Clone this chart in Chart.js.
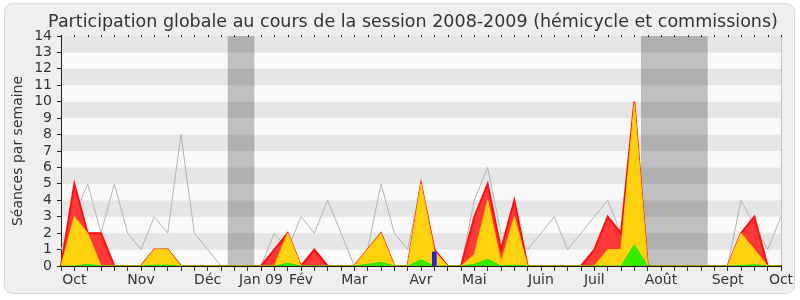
<!DOCTYPE html>
<html>
<head>
<meta charset="utf-8">
<script src="https://cdn.jsdelivr.net/npm/chart.js@4"></script>
<style>
  html, body { margin: 0; padding: 0; background: #ffffff; }
  #wrap { width: 800px; height: 300px; }
</style>
</head>
<body>
<div id="wrap"><canvas id="chart" width="800" height="300"></canvas></div>
<script>
// one value per week, from late Sept 2008 to early Oct 2009
const weeks = Array.from({ length: 55 }, (_, i) => i);

const monthTicks = { 1: "Oct", 6: "Nov", 11: "Déc", 15: "Jan 09", 18: "Fév", 22: "Mar",
  27: "Avr", 31: "Mai", 36: "Juin", 40: "Juil", 45: "Août", 50: "Sept", 54: "Oct" };

const titre = "Participation globale au cours de la session 2008-2009 (hémicycle et commissions)";

// total sessions (red)
const totalSeances = [0, 5, 2, 2, 0, 0, 0, 1, 1, 0, 0, 0, 0, 0, 0, 0, 1, 2, 0, 1,
  0, 0, 0, 1, 2, 0, 0, 5, 1, 0, 0, 3, 5, 1, 4, 0, 0, 0, 0, 0,
  1, 3, 2, 10, 0, 0, 0, 0, 0, 0, 0, 2, 3, 0, 0];
// committee sessions (yellow)
const commissions = [0, 3, 2, 0, 0, 0, 0, 1, 1, 0, 0, 0, 0, 0, 0, 0, 0, 2, 0, 0,
  0, 0, 0, 1, 2, 0, 0, 5, 0.9, 0, 0, 0.7, 4, 0.25, 3, 0, 0, 0, 0, 0,
  0, 1, 1, 9.9, 0, 0, 0, 0, 0, 0, 0, 2, 1, 0, 0];
// chaired sessions (green)
const presidences = [0, 0, 0.1, 0, 0, 0, 0, 0.05, 0.05, 0, 0, 0, 0, 0, 0, 0, 0, 0.16, 0, 0,
  0, 0, 0, 0.1, 0.22, 0, 0, 0.37, 0, 0, 0, 0.1, 0.4, 0, 0.05, 0, 0, 0, 0, 0,
  0, 0, 0, 1.28, 0, 0, 0, 0, 0, 0, 0, 0.03, 0.08, 0, 0];
// average of all deputies (grey line)
const moyenne = [1, 3, 5, 2, 5, 2, 1, 3, 2, 8, 2, 1, 0, null, null, 0, 2, 1, 3, 2,
  4, 2, 0, 1, 5, 2, 1, 5, 1, 0, 0, 4, 6, 2, 2, 1, 2, 3, 1, 2,
  3, 4, 2, null, null, null, null, null, null, null, 0, 4, 2.5, 1, 3];
// questions (blue bar)
const questions = weeks.map(i => (i === 28 ? 0.85 : null));

const vacances = [[12.5, 14.5], [43.5, 48.5]];

const font = "'DejaVu Sans', sans-serif";

const backdrop = {
  id: "backdrop",
  beforeDraw(chart) {
    const { ctx, chartArea: a, scales: { x, y } } = chart;
    ctx.save();
    // card
    ctx.fillStyle = "#efefef";
    ctx.strokeStyle = "#d8d8d8";
    ctx.lineWidth = 1;
    ctx.beginPath();
    ctx.roundRect(4.5, 3.5, 790, 290, 8);
    ctx.fill();
    ctx.stroke();
    // stripes
    for (let v = 0; v < 14; v++) {
      ctx.fillStyle = v % 2 === 1 ? "#e6e6e6" : "#fafafa";
      const top = y.getPixelForValue(v + 1), bot = y.getPixelForValue(v);
      ctx.fillRect(a.left, top, a.right - a.left, bot - top);
    }
    // holidays
    ctx.fillStyle = "rgba(0,0,0,0.23)";
    vacances.forEach(([s, e]) => {
      const l = x.getPixelForValue(s), r = x.getPixelForValue(e);
      ctx.fillRect(l, a.top, r - l, a.bottom - a.top);
    });
    // right edge and dotted top
    ctx.fillStyle = "#c4c4c4";
    ctx.fillRect(a.right, a.top, 1, a.bottom - a.top);
    ctx.fillStyle = "#222";
    weeks.forEach(i => {
      ctx.fillRect(Math.round(x.getPixelForValue(i)), a.top - 1, 1, 2);
    });
    // title, centred over the plot like the original
    ctx.fillStyle = "#333";
    ctx.font = "17.5px " + font;
    ctx.textAlign = "center";
    ctx.textBaseline = "alphabetic";
    ctx.fillText(titre, 413, 27);
    ctx.restore();
  }
};

new Chart(document.getElementById("chart"), {
  data: {
    labels: weeks,
    datasets: [
      { type: "bar", data: questions, backgroundColor: "#2424d8", barThickness: 4, order: 0 },
      { type: "line", data: presidences, fill: "origin", backgroundColor: "#33ee00",
        borderColor: "#22dd00", borderWidth: 1, pointRadius: 0, tension: 0, order: 1 },
      { type: "line", data: commissions, fill: "origin", backgroundColor: "#ffd20f",
        borderColor: "#ffcc00", borderWidth: 1, pointRadius: 0, tension: 0, order: 2 },
      { type: "line", data: totalSeances, fill: "origin", backgroundColor: "#ff3838",
        borderColor: "#ff1010", borderWidth: 2, pointRadius: 0, tension: 0, order: 3 },
      { type: "line", data: moyenne, fill: false, borderColor: "#b4b4b4",
        borderWidth: 1, pointRadius: 0, tension: 0, spanGaps: false, order: 4 }
    ]
  },
  options: {
    responsive: false,
    animation: false,
    events: [],
    layout: { padding: { left: 8, right: 19, top: 36, bottom: 6 } },
    plugins: {
      legend: { display: false },
      tooltip: { enabled: false },
      title: { display: false }
    },
    scales: {
      x: {
        type: "category",
        offset: false,
        z: 1,
        afterFit: s => { s.height = 28; },
        grid: { offset: false, drawOnChartArea: false, tickLength: 5, color: "#333" },
        border: { color: "#2a1010", width: 2 },
        ticks: {
          autoSkip: false, maxRotation: 0, padding: 1,
          color: "#333", font: { family: font, size: 14 },
          callback: (v, i) => monthTicks[i] || ""
        }
      },
      y: {
        min: 0, max: 14,
        afterFit: s => { s.width = 53; },
        grid: { drawOnChartArea: false, tickLength: 4, color: "#222" },
        border: { color: "#222", width: 1 },
        title: { display: true, text: "Séances par semaine", color: "#333",
          font: { family: font, size: 14 }, padding: 2 },
        ticks: { stepSize: 1, autoSkip: false, padding: 5, color: "#333",
          font: { family: font, size: 14 } }
      }
    }
  },
  plugins: [backdrop]
});
</script>
</body>
</html>
